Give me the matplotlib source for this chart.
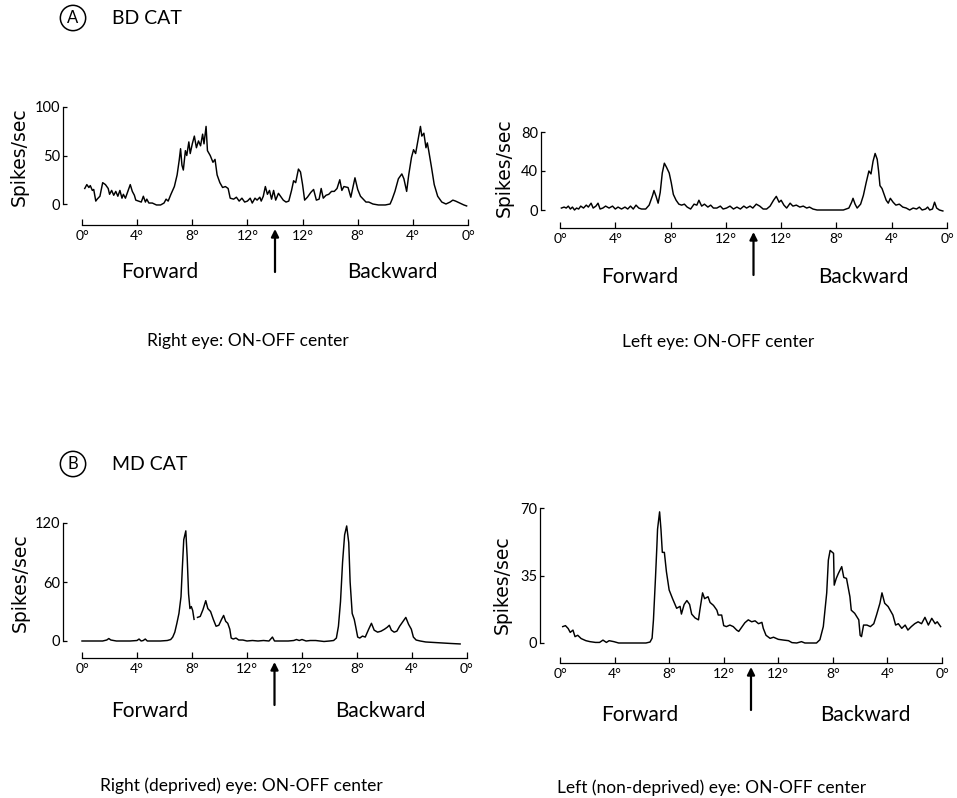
import numpy as np
import matplotlib
matplotlib.use("Agg")
import matplotlib.pyplot as plt

plt.rcParams['font.family'] = ['Lato', 'DejaVu Sans']

W, H = 957, 798

# sweep position in degrees along the stimulus path: 0..14 forward, 14..28 backward
x_ticks = [0, 4, 8, 12, 16, 20, 24, 28]
x_tick_labels = ['0°', '4°', '8°', '12°', '12°', '8°', '4°', '0°']

# A: BD cat, right eye
bd_right_x = [0.2, 0.35, 0.5, 0.6, 0.75, 0.85, 1.0, 1.1, 1.3, 1.5, 1.7, 1.9, 2.0, 2.15, 2.3, 2.45,
              2.6, 2.75, 2.9, 3.0, 3.15, 3.3, 3.5, 3.65, 3.8, 3.9, 4.1, 4.3, 4.45, 4.6, 4.7, 4.85,
              5.1, 5.4, 5.7, 5.95, 6.1, 6.25, 6.45, 6.7, 6.9, 7.05, 7.15, 7.25, 7.35, 7.5, 7.6, 7.75,
              7.85, 8.0, 8.15, 8.3, 8.45, 8.6, 8.75, 8.85, 9.0, 9.1, 9.3, 9.5, 9.65, 9.8, 10.0, 10.2,
              10.4, 10.6, 10.75, 11.0, 11.2, 11.4, 11.6, 11.8, 12.0, 12.2, 12.35, 12.55, 12.7, 12.9,
              13.0, 13.15, 13.3, 13.45, 13.6, 13.75, 13.9, 14.05, 14.25, 14.4, 14.6, 14.8, 15.0, 15.2,
              15.35, 15.5, 15.7, 15.85, 16.0, 16.15, 16.35, 16.6, 16.8, 17.0, 17.2, 17.35, 17.5, 17.7,
              17.9, 18.1, 18.3, 18.5, 18.7, 18.85, 19.0, 19.3, 19.5, 19.8, 20.0, 20.2, 20.4, 20.6,
              20.8, 21.1, 21.5, 22.0, 22.35, 22.5, 22.7, 22.95, 23.2, 23.35, 23.55, 23.7, 23.9, 24.05,
              24.2, 24.4, 24.55, 24.65, 24.8, 24.95, 25.05, 25.15, 25.35, 25.55, 25.8, 26.1, 26.4,
              26.7, 26.9, 27.1, 27.4, 27.7, 27.9]
bd_right_y = [16, 20, 17, 19, 14, 15, 3, 5, 8, 22, 20, 16, 10, 14, 9, 13,
              8, 14, 6, 10, 6, 12, 20, 13, 9, 4, 3, 2, 8, 2, 5, 1,
              1, -1, -1, 1, 5, 3, 10, 18, 30, 45, 57, 40, 35, 55, 50, 64,
              52, 62, 70, 58, 65, 60, 72, 62, 80, 55, 50, 43, 46, 30, 22, 17,
              18, 16, 6, 5, 7, 3, 6, 2, 3, 6, 1, 6, 4, 7,
              3, 8, 18, 10, 14, 5, 14, 4, 11, 8, 4, 2, 3, 14,
              24, 22, 36, 33, 20, 4, 7, 12, 15, 4, 5, 16, 6, 9,
              10, 13, 13, 16, 25, 14, 18, 17, 7, 27, 15, 8, 5, 2,
              2, 0, -1, -1, 0, 5, 13, 26, 31, 26, 13, 30, 48, 56,
              52, 68, 80, 70, 73, 58, 63, 55, 38, 20, 8, 2, 0,
              2, 4, 3, 1, -1, -2]

# A: BD cat, left eye
bd_left_x = [0.1, 0.3, 0.45, 0.6, 0.75, 0.9, 1.05, 1.2, 1.35, 1.5, 1.7, 1.9, 2.05, 2.25, 2.4, 2.6,
             2.75, 2.9, 3.1, 3.3, 3.55, 3.8, 4.0, 4.2, 4.45, 4.7, 4.9, 5.1, 5.3, 5.5, 5.7, 5.9,
             6.2, 6.45, 6.7, 6.8, 6.95, 7.1, 7.25, 7.4, 7.55, 7.7, 7.9, 8.05, 8.2, 8.4, 8.6, 8.8,
             9.0, 9.2, 9.45, 9.7, 9.9, 10.05, 10.25, 10.45, 10.7, 10.9, 11.1, 11.35, 11.6, 11.8,
             12.05, 12.3, 12.55, 12.8, 13.05, 13.3, 13.5, 13.75, 13.95, 14.2, 14.45, 14.7, 14.95,
             15.2, 15.45, 15.65, 15.85, 16.0, 16.2, 16.4, 16.65, 16.85, 17.1, 17.35, 17.6, 17.85,
             18.05, 18.3, 18.6, 19.0, 19.5, 20.0, 20.5, 20.9, 21.1, 21.2, 21.35, 21.5, 21.75, 21.95,
             22.15, 22.35, 22.5, 22.65, 22.8, 22.95, 23.05, 23.15, 23.3, 23.45, 23.6, 23.75, 23.9,
             24.1, 24.3, 24.55, 24.8, 25.05, 25.3, 25.55, 25.8, 26.0, 26.2, 26.45, 26.6, 26.75,
             26.95, 27.1, 27.25, 27.45, 27.7]
bd_left_y = [2, 3, 2, 4, 1, 3, 0, 2, 1, 4, 2, 5, 3, 7, 2, 4,
             7, 1, 2, 4, 2, 4, 1, 3, 1, 3, 1, 4, 1, 5, 2, 1,
             1, 5, 15, 20, 14, 7, 18, 38, 48, 44, 38, 28, 16, 10, 6, 5,
             6, 3, 1, 6, 5, 10, 4, 6, 3, 5, 2, 2, 4, 1,
             2, 4, 1, 3, 1, 4, 2, 4, 2, 6, 4, 1, 1,
             4, 10, 14, 8, 10, 5, 2, 7, 4, 5, 3, 4, 2,
             3, 1, 0, 0, 0, 0, 0, 2, 8, 12, 6, 2, 6, 15,
             28, 40, 37, 50, 58, 52, 40, 25, 22, 16, 10, 7, 12,
             8, 5, 6, 3, 2, 0, 2, 1, 3, 0, 1, 3, 0,
             1, 8, 2, 0, -1]

# B: MD cat, right (deprived) eye
md_right_x = [0.0, 0.5, 1.0, 1.5, 1.8, 1.95, 2.1, 2.5, 3.0, 3.5, 4.0, 4.15, 4.3, 4.45, 4.6, 4.75,
              5.2, 5.7, 6.2, 6.45, 6.6, 6.75, 6.9, 7.05, 7.2, 7.3, 7.4, 7.55, 7.65, 7.75, 7.85, 7.95,
              8.05, 8.15, 8.25, 8.4, 8.6, 8.8, 9.0, 9.15, 9.35, 9.55, 9.75, 9.95, 10.15, 10.3, 10.45,
              10.6, 10.75, 10.85, 11.0, 11.2, 11.4, 11.7, 12.0, 12.4, 12.8, 13.2, 13.6, 13.85, 14.0,
              14.5, 15.0, 15.4, 15.6, 15.8, 16.0, 16.3, 16.6, 17.0, 17.3, 17.6, 18.0, 18.3, 18.5,
              18.65, 18.8, 18.95, 19.1, 19.25, 19.4, 19.5, 19.65, 19.8, 19.9, 20.05, 20.2, 20.4, 20.6,
              20.85, 21.05, 21.25, 21.5, 21.75, 22.0, 22.2, 22.35, 22.5, 22.7, 22.9, 23.1, 23.35,
              23.55, 23.75, 23.95, 24.1, 24.3, 24.6, 25.0, 25.6, 26.2, 26.8, 27.5]
md_right_y = [0, 0, 0, 0, 1, 2.5, 1, 0, 0, 0, 0.5, 2, 0, 0.5, 2, 0,
              0, 0, 0.5, 1.5, 4, 9, 18, 28, 45, 75, 103, 112, 85, 48, 33, 35,
              31, 22, np.nan, 24, 25, 32, 41, 33, 30, 22, 15, 16, 22, 26, 20,
              18, 12, 3, 2, 3, 1, 1, 0, 0.5, 0, 0.5, 0, 4, 0,
              0, 0, 0.5, 1.5, 0.5, 1.5, 0, 0.5, 0.5, 0, -0.5, 0, 0.5, 3,
              15, 40, 80, 108, 117, 100, 60, 28, 22, 15, 4, 3, 5, 4,
              12, 18, 11, 9, 10, 12, 14, 16, 11, 9, 10, 15, 20,
              24, 17, 12, 4, 1, 0, -1, -1.5, -2, -2.5, -3]

# B: MD cat, left (non-deprived) eye
md_left_x = [0.2, 0.4, 0.6, 0.75, 0.95, 1.1, 1.3, 1.55, 1.9, 2.2, 2.6, 2.9, 3.15, 3.4, 3.6, 3.95,
             4.3, 4.8, 5.3, 5.8, 6.3, 6.6, 6.75, 6.85, 7.0, 7.1, 7.15, 7.3, 7.4, 7.5, 7.65, 7.8,
             8.0, 8.25, 8.55, 8.8, 8.9, 9.1, 9.3, 9.5, 9.65, 9.9, 10.15, 10.25, 10.45, 10.6, 10.85,
             11.0, 11.25, 11.5, 11.6, 11.85, 12.0, 12.2, 12.45, 12.7, 12.95, 13.1, 13.35, 13.55,
             13.8, 14.05, 14.3, 14.55, 14.8, 14.9, 15.1, 15.4, 15.65, 16.0, 16.4, 16.75, 17.0,
             17.35, 17.7, 17.95, 18.8, 19.05, 19.3, 19.55, 19.67, 19.8, 20.05, 20.1, 20.25, 20.4,
             20.65, 20.8, 21.0, 21.25, 21.35, 21.6, 21.9, 22.0, 22.1, 22.25, 22.5, 22.75, 23.0,
             23.2, 23.45, 23.6, 23.8, 24.05, 24.4, 24.6, 24.8, 25.05, 25.3, 25.5, 25.75, 26.0,
             26.25, 26.5, 26.75, 27.0, 27.25, 27.5, 27.65, 27.9]
md_left_y = [8.5, 9, 7.5, 5.5, 6.7, 3.3, 4, 2.3, 1.2, 0.7, 0.3, 0.3, 1.5, 0.3, 1.2, 0.7,
             0, 0, 0, 0, 0, 0.5, 2.5, 12, 34, 50, 59, 68, 59, 47, 47, 37,
             27.5, 23, 18, 19, 15, 20, 22, 20, 15, 13, 12, 17, 26, 23, 24,
             21, 19.5, 17, 14.5, 14.5, 9, 8.5, 9.3, 8.5, 6.7, 6, 8.5, 10.5,
             12, 11, 11.5, 10, 10.7, 7.6, 4, 2.4, 3, 1.9, 1.5, 1.2, 0.2,
             0, 0.7, 0, 0, 1.7, 8.5, 26, 43, 48, 46.5, 30, 33.5, 36,
             39.6, 34, 33.5, 24, 17, 15.4, 12, 4, 3.3, 9.3, 9.3, 8.5, 10,
             14.5, 20.6, 26, 20.6, 18.9, 14.5, 9.3, 10, 7.6, 9.3, 6.7, 8.5, 10,
             11, 10, 13.3, 9.3, 12.8, 10, 11, 8.5]


def fx(px):
    return px / W


def fy(py):
    return 1 - py / H


def panel(x, y, p0, p28, ybase, ytop_px, ytop_val, spine_x, axis_y, yticks):
    # place an axes so that data maps onto the reference pixel geometry
    sx = (p28 - p0) / 28.0
    sy = (ybase - ytop_px) / ytop_val
    left, right, top, bottom = spine_x, p28 + 8, ytop_px - 4, axis_y + 3
    ax = fig.add_axes([fx(left), fy(bottom), (right - left) / W, (bottom - top) / H])
    ax.set_xlim((left - p0) / sx, (right - p0) / sx)
    ax.set_ylim((ybase - bottom) / sy, (ybase - top) / sy)
    ax.plot(x, y, color='black', lw=1.05)
    for s in ['top', 'right']:
        ax.spines[s].set_visible(False)
    ax.spines['left'].set_bounds(0, ytop_val)
    ax.spines['bottom'].set_position(('data', (ybase - axis_y) / sy))
    ax.spines['bottom'].set_bounds(0, 28)
    ax.spines['left'].set_linewidth(0.9)
    ax.spines['bottom'].set_linewidth(0.9)
    ax.set_yticks(yticks)
    ax.set_yticklabels([str(t) for t in yticks])
    ax.set_xticks(x_ticks)
    ax.set_xticklabels(x_tick_labels)
    ax.tick_params(axis='y', direction='in', length=3, width=0.9, pad=2, labelsize=10.5)
    ax.tick_params(axis='x', direction='in', length=4, width=0.9, pad=3.5, labelsize=10)
    ax.patch.set_visible(False)
    # arrow marking the reversal of the sweep
    y_tip = (ybase - axis_y - 4) / sy
    y_tail = (ybase - axis_y - 47) / sy
    ax.annotate('', xy=(14, y_tip), xytext=(14, y_tail), annotation_clip=False,
                arrowprops=dict(arrowstyle='-|>', color='black', lw=1.6, mutation_scale=11,
                                shrinkA=0, shrinkB=0))
    return ax


fig = plt.figure(figsize=(W / 100, H / 100), dpi=100)

panel(bd_right_x, bd_right_y, 82, 468, 204, 107, 100, 63, 225, [0, 50, 100])
panel(bd_left_x, bd_left_y, 560, 947, 210, 132, 80, 541, 228, [0, 40, 80])
panel(md_right_x, md_right_y, 82, 467, 641, 523, 120, 63, 658, [0, 60, 120])
panel(md_left_x, md_left_y, 560, 942, 643, 508, 70, 540, 663, [0, 35, 70])

circ = dict(boxstyle='circle,pad=0.28', fc='none', ec='black', lw=1.1)
fig.text(fx(73), fy(18), 'A', fontsize=12, ha='center', va='center', bbox=circ)
fig.text(fx(112), fy(18), 'BD CAT', fontsize=14, ha='left', va='center')
fig.text(fx(73), fy(464), 'B', fontsize=12, ha='center', va='center', bbox=circ)
fig.text(fx(112), fy(464), 'MD CAT', fontsize=14, ha='left', va='center')

for px, py in [(19, 157), (504, 168), (20, 583), (502, 585)]:
    fig.text(fx(px), fy(py), 'Spikes/sec', fontsize=13.5, family='DejaVu Sans',
             rotation=90, ha='center', va='center')

for px, py, s in [(160, 272, 'Forward'), (392, 272, 'Backward'),
                  (640, 277, 'Forward'), (863, 277, 'Backward'),
                  (150, 711, 'Forward'), (380, 711, 'Backward'),
                  (640, 715, 'Forward'), (865, 715, 'Backward')]:
    fig.text(fx(px), fy(py), s, fontsize=15, ha='center', va='center')

fig.text(fx(248), fy(341), 'Right eye: ON-OFF center', fontsize=12.5, ha='center', va='center')
fig.text(fx(718), fy(342), 'Left eye: ON-OFF center', fontsize=12.5, ha='center', va='center')
fig.text(fx(241), fy(786), 'Right (deprived) eye: ON-OFF center', fontsize=12.5, ha='center', va='center')
fig.text(fx(712), fy(788), 'Left (non-deprived) eye: ON-OFF center', fontsize=12.5, ha='center', va='center')

fig.savefig('out.png', dpi=100)
